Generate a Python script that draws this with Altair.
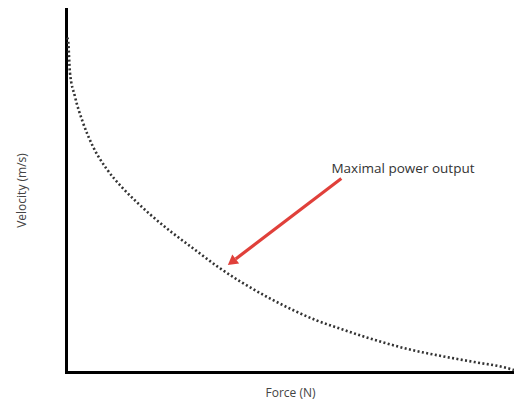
import altair as alt
import pandas as pd

# Curve (force, velocity), in arbitrary units
force = [1, 2, 4, 9, 17, 27, 41, 57, 72, 84, 107, 131, 154, 177, 207, 231,
         254, 277, 301, 321, 347, 381, 414, 447, 454]
velocity = [337, 335, 302, 278, 252, 228, 205, 186, 171, 160, 141, 123, 106, 91,
            74, 62, 52, 44, 36, 30, 23, 16, 10, 4, 2]

arrow_start = (279, 195)
arrow_end = (172, 114)
arrow_tip = (168, 111)
label_pos = (269, 205)
label_text = "Maximal power output"

curve = pd.DataFrame({"force": force, "velocity": velocity})

xs = alt.Scale(domain=[0, 454], nice=False, zero=False)
ys = alt.Scale(domain=[0, 367], nice=False, zero=False)

xax = alt.Axis(title="Force (N)", domain=True, domainColor="black", domainWidth=3,
               ticks=False, labels=False, grid=False, titlePadding=15,
               titleFontSize=12, titleFont="Open Sans", titleColor="#444",
               titleFontWeight="normal", domainCap="square")
yax = alt.Axis(title="Velocity (m/s)", domain=True, domainColor="black", domainWidth=3,
               ticks=False, labels=False, grid=False, titlePadding=38,
               titleFontSize=12, titleFont="Open Sans", titleColor="#444",
               titleFontWeight="normal", domainCap="square")

line = alt.Chart(curve).mark_line(
    interpolate="monotone", color="#333", strokeWidth=2.6, strokeDash=[2, 2.4]
).encode(
    x=alt.X("force:Q", scale=xs, axis=xax),
    y=alt.Y("velocity:Q", scale=ys, axis=yax),
)

arr = pd.DataFrame({"x": [arrow_start[0]], "y": [arrow_start[1]],
                    "x2": [arrow_end[0]], "y2": [arrow_end[1]]})
rule = alt.Chart(arr).mark_rule(color="#e0403a", strokeWidth=3.2).encode(
    x=alt.X("x:Q", scale=xs), y=alt.Y("y:Q", scale=ys), x2="x2:Q", y2="y2:Q")

head = alt.Chart(pd.DataFrame({"x": [arrow_tip[0]], "y": [arrow_tip[1]]})).mark_point(
    shape="triangle-up", filled=True, color="#e0403a", size=130, angle=233, opacity=1
).encode(x=alt.X("x:Q", scale=xs), y=alt.Y("y:Q", scale=ys))

label = alt.Chart(pd.DataFrame({"x": [label_pos[0]], "y": [label_pos[1]], "t": [label_text]})).mark_text(
    align="left", baseline="middle", font="Open Sans", fontSize=13.5, color="#333"
).encode(x=alt.X("x:Q", scale=xs), y=alt.Y("y:Q", scale=ys), text="t:N")

chart = alt.layer(line, rule, head, label).properties(
    width=448, height=364,
    padding={"left": 58, "top": 0, "right": 0, "bottom": 31},
    autosize=alt.AutoSizeParams(type="none"),
).configure_view(stroke=None)

chart.save("out.html", embed_options={"renderer": "svg", "actions": False})
